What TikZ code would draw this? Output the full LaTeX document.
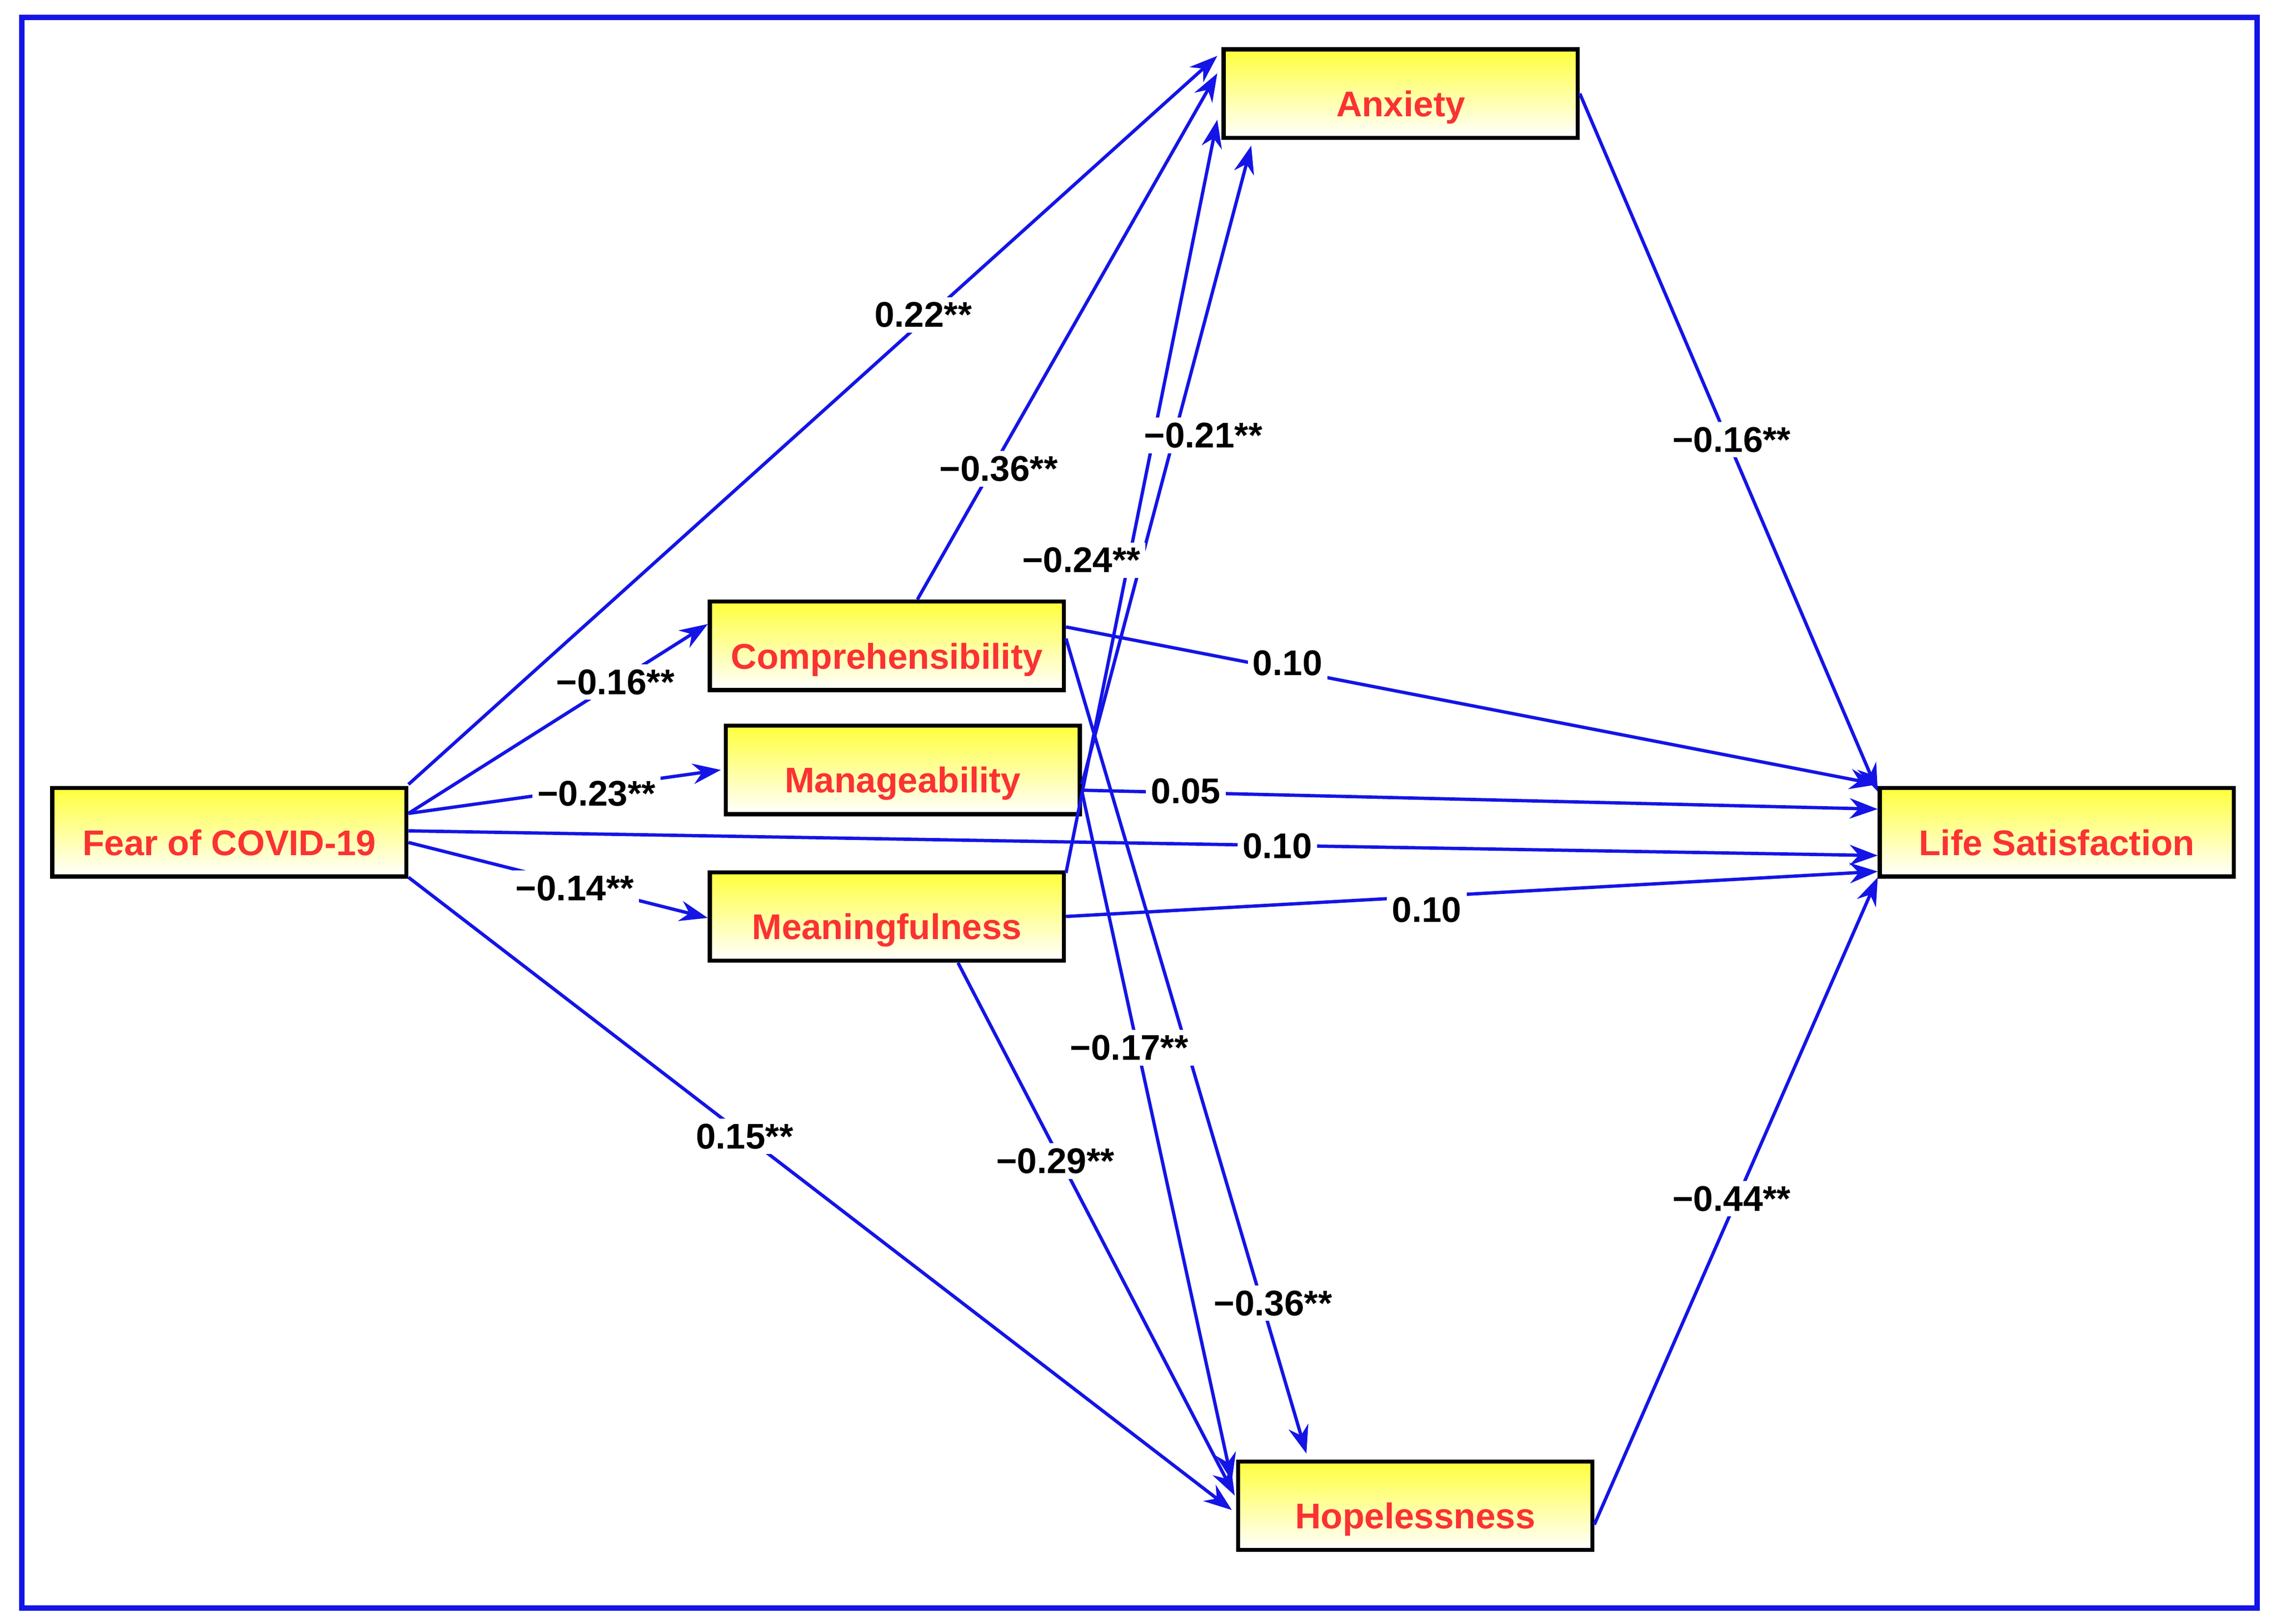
\documentclass[tikz,border=0pt]{standalone}
\usepackage{fontspec}
\setmainfont{Liberation Sans}
\usetikzlibrary{arrows.meta,calc,shadows}
\definecolor{fillY}{RGB}{255,255,60}
\definecolor{txtR}{RGB}{250,50,50}
\begin{document}
\begin{tikzpicture}[x=0.02cm,y=-0.02cm,
 box/.style={draw=black,line width=1.6pt,minimum width=4.88cm,minimum height=1.22cm,top color=fillY,bottom color=white,inner sep=0pt,font=\fontsize{14}{17}\selectfont\bfseries,text=txtR},
 e/.style={draw={rgb,255:red,20;green,20;blue,230},line width=1.3pt,-{Stealth[length=11pt,width=8pt]}},
 lab/.style={fill=white,inner sep=2pt,font=\fontsize{14}{17}\selectfont\bfseries}]
\useasboundingbox (0,0) rectangle (1568,1119);
\draw[draw={rgb,255:red,20;green,20;blue,230},line width=2.2pt] (15,12) rectangle (1555,1108);
\newcommand{\bt}[1]{\raisebox{-9pt}[0pt][0pt]{#1}}
\node[box] (anx) at (965,64.5) {\bt{Anxiety}};
\node[box] (comp) at (611,445) {\bt{Comprehensibility}};
\node[box] (man) at (622,530.5) {\bt{Manageability}};
\node[box] (fear) at (158,573.5) {\bt{Fear of COVID-19}};
\node[box] (mean) at (611,631.5) {\bt{Meaningfulness}};
\node[box] (life) at (1417,573.5) {\bt{Life Satisfaction}};
\node[box] (hop) at (975,1037.5) {\bt{Hopelessness}};
% edges
\draw[e] ($(fear.east)+(0,-33)$) -- ($(anx.west)+(-3,-26)$);
\draw[e] ($(fear.east)+(0,-13)$) -- ($(comp.west)+(0,-15)$);
\draw[e] ($(fear.east)+(0,-13)$) -- ($(man.west)+(-2,0)$);
\draw[e] ($(fear.east)+(0,7)$) -- ($(mean.west)+(0,1)$);
\draw[e] ($(fear.east)+(0,-1)$) -- ($(life.west)+(0,16)$);
\draw[e] ($(fear.east)+(0,31)$) -- ($(hop.west)+(-3,3)$);
\draw[e] ($(comp.north)+(21,0)$) -- ($(anx.west)+(-3,-14)$);
\draw[e] ($(mean.east)+(0,-30)$) -- ($(anx.west)+(-3,18)$);
\draw[e] ($(man.east)+(0,10)$) -- ($(anx.south)+(-103,4)$);
\draw[e] ($(man.east)+(0,15)$) -- ($(hop.west)+(-3,-17)$);
\draw[e] ($(comp.east)+(0,-5)$) -- ($(hop.north)+(-75,-4)$);
\draw[e] ($(mean.south)+(49,0)$) -- ($(hop.west)+(-1,-7)$);
\draw[e] ($(comp.east)+(0,-13)$) -- ($(life.west)+(0,-33)$);
\draw[e] ($(man.east)+(0,14)$) -- ($(life.west)+(0,-16)$);
\draw[e] (mean.east) -- ($(life.west)+(0,27)$);
\draw[e] (anx.east) -- ($(life.west)+(0,-28)$);
\draw[e] ($(hop.east)+(0,13)$) -- ($(life.west)+(0,31)$);
% labels
\node[lab] (l1) at (636,217) {0.22**};
\node[lab] (l2) at (424,470) {−0.16**};
\node[lab] (l3) at (411,547) {−0.23**};
\node[lab] (l4) at (396,612) {−0.14**};
\node[lab] (l5) at (880,583) {0.10};
\node[lab] (l6) at (513,783) {0.15**};
\node[lab] (l7) at (688,323) {−0.36**};
\node[lab] (l8) at (745,386) {−0.24**};
\node[lab] (l9) at (829,300) {−0.21**};
\node[lab] (l10) at (778,722) {−0.17**};
\node[lab] (l11) at (877,898) {−0.36**};
\node[lab] (l12) at (727,800) {−0.29**};
\node[lab] (l13) at (887,457) {0.10};
\node[lab] (l14) at (817,545) {0.05};
\node[lab] (l15) at (983,627) {0.10};
\node[lab] (l16) at (1193,303) {−0.16**};
\node[lab] (l17) at (1193,826) {−0.44**};
\end{tikzpicture}
\end{document}
